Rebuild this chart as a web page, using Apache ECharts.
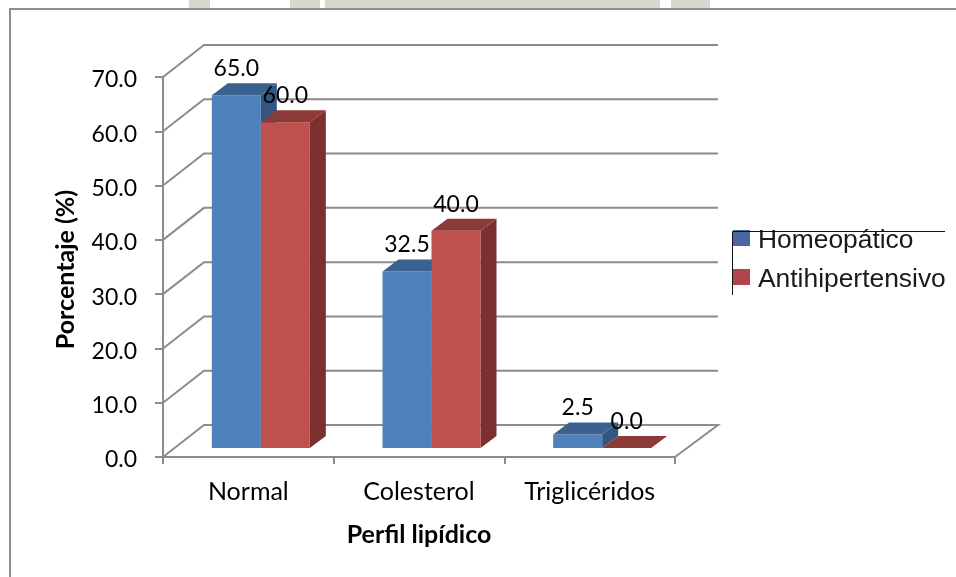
<!DOCTYPE html>
<html>
<head>
<meta charset="utf-8">
<style>html,body{margin:0;padding:0;background:#fff}#c{width:956px;height:577px}</style>
<script src="https://cdn.jsdelivr.net/npm/echarts@6/dist/echarts.min.js"></script>
</head>
<body>
<div id="c"></div>
<script>
const categories = ['Normal', 'Colesterol', 'Triglicéridos'];
const homeopatico = [65.0, 32.5, 2.5];
const antihipertensivo = [60.0, 40.0, 0.0];
const gridValues = [0, 10, 20, 30, 40, 50, 60, 70];
const seriesNames = ['Homeopático', 'Antihipertensivo'];

const FONT = 'Lato';
const AXIS = '#8c8c8c';
const WALL = [41, -32];     // depth of the back wall
const SHIFT = [12.5, -9];   // where the bars' front face stands inside the floor
const DEPTH = [16, -12];    // depth of each bar
const BAR = 49;

const chart = echarts.init(document.getElementById('c'), null, {renderer: 'canvas'});

function wallItem(params, api) {
  const v = api.value(0);
  const cs = params.coordSys;
  const y = api.coord([0, v])[1];
  const x0 = cs.x, x1 = cs.x + cs.width;
  const style = {stroke: AXIS, lineWidth: 2, fill: null};
  return {
    type: 'polyline',
    shape: {points: [[x0, y], [x0 + WALL[0], y + WALL[1]], [x1 + WALL[0] + 2, y + WALL[1]]].concat(v === 0 ? [[x1, y]] : [])},
    style, silent: true
  };
}

function barItem(side, colors) {
  return function (params, api) {
    const cat = api.value(0), val = api.value(1);
    const c = api.coord([cat, val]), b = api.coord([cat, 0]);
    const x0 = c[0] + SHIFT[0] + (side === 0 ? -BAR : 0), x1 = x0 + BAR;
    const yT = c[1] + SHIFT[1], yB = b[1] + SHIFT[1];
    const dx = DEPTH[0], dy = DEPTH[1];
    const children = [];
    if (val > 0) {
      children.push({type: 'polygon', shape: {points: [[x1, yT], [x1 + dx, yT + dy], [x1 + dx, yB + dy], [x1, yB]]}, style: {fill: colors.side}});
      children.push({type: 'rect', shape: {x: x0, y: yT, width: BAR, height: yB - yT}, style: {fill: colors.front}});
    }
    children.push({type: 'polygon', shape: {points: [[x0, yT], [x0 + dx, yT + dy], [x1 + dx, yT + dy], [x1, yT]]}, style: {fill: colors.top}});
    children.push({
      type: 'text', z2: 100,
      style: {
        x: (x0 + x1) / 2, y: yT - 26.5, text: val.toFixed(1), align: 'center', verticalAlign: 'middle',
        fill: '#000', font: '23px ' + FONT
      }
    });
    return {type: 'group', children};
  };
}

const bluePal = {front: '#4f81bd', top: '#3b618f', side: '#33557f'};
const redPal = {front: '#c0504d', top: '#8c3a38', side: '#7b2f2e'};

chart.setOption({
  animation: false,
  backgroundColor: '#fff',
  textStyle: {fontFamily: FONT},
  grid: {left: 163, top: 77, width: 512, height: 380, containLabel: false},
  xAxis: {
    type: 'category', data: categories,
    boundaryGap: true,
    axisLine: {show: true, lineStyle: {color: AXIS, width: 2}},
    axisTick: {show: true, length: 7, alignWithLabel: false, lineStyle: {color: AXIS, width: 2}},
    axisLabel: {color: '#000', fontFamily: FONT, fontSize: 25, margin: 22},
    name: 'Perfil lipídico', nameLocation: 'middle', nameGap: 65,
    nameTextStyle: {color: '#000', fontFamily: FONT, fontWeight: 'bold', fontSize: 25},
    splitLine: {show: false}
  },
  yAxis: {
    type: 'value', min: 0, max: 70, interval: 10,
    axisLine: {show: true, lineStyle: {color: AXIS, width: 2}},
    axisTick: {show: true, length: 8, lineStyle: {color: AXIS, width: 2}},
    axisLabel: {
      margin: 26,
      formatter: v => '{t|' + v.toFixed(1) + '}',
      rich: {t: {color: '#000', fontFamily: FONT, fontSize: 23, padding: [6, 0, 0, 0]}}
    },
    name: 'Porcentaje (%)', nameLocation: 'middle', nameRotate: 90, nameGap: 85,
    nameTextStyle: {color: '#000', fontFamily: FONT, fontWeight: 'bold', fontSize: 25, padding: [0, 5, 0, 0]},
    splitLine: {show: false}
  },
  legend: {
    left: 733, top: 228, padding: 0, orient: 'vertical', itemGap: 13, itemWidth: 17, itemHeight: 16, icon: 'rect',
    selectedMode: false,
    formatter: name => '{t|' + name + '}',
    textStyle: {
      rich: {t: {color: '#1a1a1a', fontFamily: 'Liberation Sans', fontSize: 26.4, padding: [6, 0, 0, 3]}}
    },
    data: [
      {name: seriesNames[0], itemStyle: {color: '#4a66a0'}},
      {name: seriesNames[1], itemStyle: {color: '#b5434e'}}
    ]
  },
  series: [
    {
      type: 'custom', name: 'wall', z: 1, silent: true, clip: false,
      coordinateSystem: 'cartesian2d',
      encode: {y: 0},
      data: gridValues.map(v => [v]),
      renderItem: wallItem
    },
    {
      type: 'custom', name: seriesNames[0], z: 2, clip: false,
      itemStyle: {color: bluePal.front},
      encode: {x: 0, y: 1},
      data: homeopatico.map((v, i) => [i, v]),
      renderItem: barItem(0, bluePal)
    },
    {
      type: 'custom', name: seriesNames[1], z: 3, clip: false,
      itemStyle: {color: redPal.front},
      encode: {x: 0, y: 1},
      data: antihipertensivo.map((v, i) => [i, v]),
      renderItem: barItem(1, redPal)
    }
  ],
  graphic: [
    {type: 'polyline', z: 0, shape: {points: [[10, 577], [10, 9], [956, 9]]}, style: {stroke: '#8f8f8f', lineWidth: 2, fill: null}, silent: true},
    {type: 'polyline', z: 50, shape: {points: [[732.5, 295], [732.5, 231.5], [945, 231.5]]}, style: {stroke: '#111', lineWidth: 1, fill: null}, silent: true},
    {type: 'rect', z: 0, shape: {x: 189, y: 0, width: 21, height: 8}, style: {fill: '#d3dacd'}, silent: true},
    {type: 'rect', z: 0, shape: {x: 290, y: 0, width: 30, height: 8}, style: {fill: '#d3dacd'}, silent: true},
    {type: 'rect', z: 0, shape: {x: 325, y: 0, width: 335, height: 8}, style: {fill: '#d3dacd'}, silent: true},
    {type: 'rect', z: 0, shape: {x: 671, y: 0, width: 39, height: 8}, style: {fill: '#d3dacd'}, silent: true}
  ]
});
</script>
</body>
</html>
